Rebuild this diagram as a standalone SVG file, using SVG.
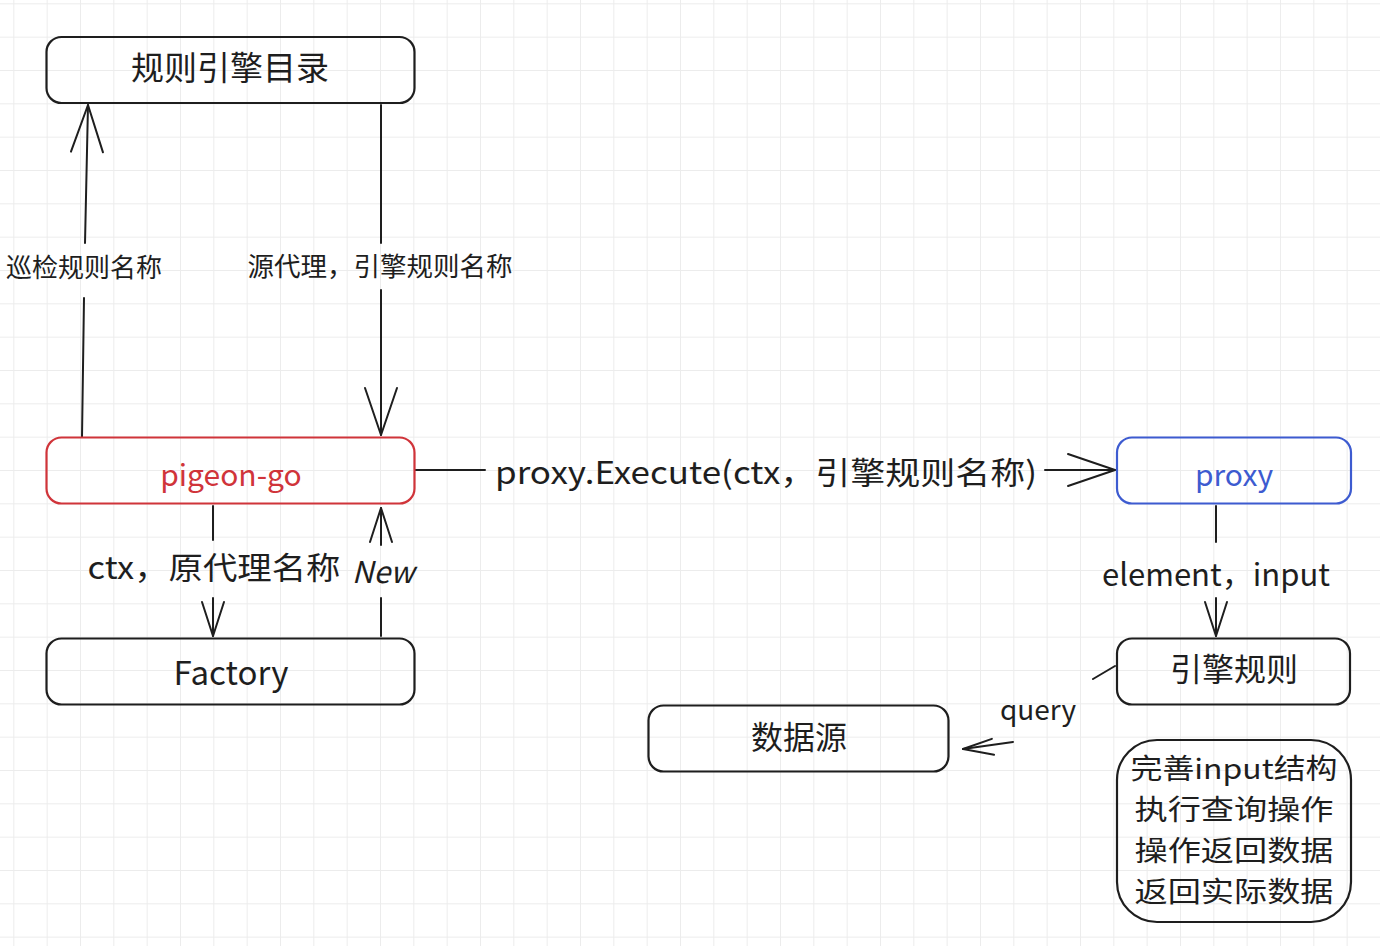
<svg xmlns="http://www.w3.org/2000/svg" width="1380" height="946" viewBox="0 0 1380 946">
<defs>
<pattern id="grid" x="13.33" y="3.33" width="33.333" height="33.333" patternUnits="userSpaceOnUse">
<path d="M0,0.5 H33.333 M0.5,0 V33.333" fill="none" stroke="#ececec" stroke-width="1"/>
</pattern>
<marker id="headL" markerUnits="userSpaceOnUse" viewBox="-50 -20 52 40" markerWidth="52" markerHeight="40" refX="0" refY="0" orient="auto" overflow="visible">
<path d="M-47,-16 L0,0 L-47,16" fill="none" stroke="#1e1e1e" stroke-width="2" stroke-linecap="round" stroke-linejoin="round"/>
</marker>
<marker id="headS" markerUnits="userSpaceOnUse" viewBox="-40 -16 42 32" markerWidth="42" markerHeight="32" refX="0" refY="0" orient="auto" overflow="visible">
<path d="M-34,-11 L0,0 L-34,11" fill="none" stroke="#1e1e1e" stroke-width="2" stroke-linecap="round" stroke-linejoin="round"/>
</marker>
<marker id="headQ" markerUnits="userSpaceOnUse" viewBox="-40 -16 42 32" markerWidth="42" markerHeight="32" refX="0" refY="0" orient="auto" overflow="visible">
<path d="M-30,-10 L0,0 L-30,6" fill="none" stroke="#1e1e1e" stroke-width="2" stroke-linecap="round" stroke-linejoin="round"/>
</marker>
</defs>
<style>
.box{fill:none;stroke:#1e1e1e;stroke-width:2.2}
.red{stroke:#d0343a}
.blue{stroke:#3d5bd0}
.t{font-family:"Noto Sans CJK SC","Noto Sans",sans-serif;fill:#1e1e1e;text-anchor:middle;dominant-baseline:central}
.conn{fill:none;stroke:#1e1e1e;stroke-width:2;stroke-linecap:round}
</style>
<rect width="1380" height="946" fill="#ffffff"/>
<rect width="1380" height="946" fill="url(#grid)"/>

<g id="connectors">
<path class="conn" d="M82,437 L84,298 M85,243 L88,105" marker-end="url(#headL)"/>
<text class="t" x="84" y="265" font-size="26">巡检规则名称</text>
<path class="conn" d="M381,105 L381,243 M381,290 L381,435" marker-end="url(#headL)"/>
<text class="t" x="380" y="264" font-size="26.5">源代理，引擎规则名称</text>
<path class="conn" d="M213,506 L213,540 M213,598 L213,636" marker-end="url(#headS)"/>
<text class="t" x="214" y="565" font-size="31" textLength="253" lengthAdjust="spacingAndGlyphs">ctx，原代理名称</text>
<path class="conn" d="M381,636 L381,598 M381,545 L381,508" marker-end="url(#headS)"/>
<text class="t" x="383" y="570" font-size="30" font-style="italic">New</text>
<path class="conn" d="M415,470 L485,470 M1045,470 L1115,470" marker-end="url(#headL)"/>
<text class="t" x="766" y="470" font-size="31" textLength="542" lengthAdjust="spacingAndGlyphs">proxy.Execute(ctx，引擎规则名称)</text>
<path class="conn" d="M1216,506 L1216,542 M1216,598 L1216,636" marker-end="url(#headS)"/>
<text class="t" x="1216" y="572" font-size="31" textLength="228" lengthAdjust="spacingAndGlyphs">element，input</text>
<path class="conn" d="M1115,666 L1093,679 M1013,742 L963,749" marker-end="url(#headQ)"/>
<text class="t" x="1038" y="708" font-size="28">query</text>
</g>

<g id="node-catalog">
<rect class="box" x="46.5" y="37" width="368" height="66" rx="15"/>
<text class="t" x="230" y="66" font-size="33">规则引擎目录</text>
</g>
<g id="node-pigeon">
<rect class="box red" x="46.5" y="437.5" width="368" height="66" rx="15"/>
<text class="t" x="231" y="473" font-size="30" style="fill:#d0343a">pigeon-go</text>
</g>
<g id="node-factory">
<rect class="box" x="46.5" y="638.5" width="368" height="66" rx="15"/>
<text class="t" x="231" y="671" font-size="33">Factory</text>
</g>
<g id="node-proxy">
<rect class="box blue" x="1117" y="437.5" width="234" height="66" rx="15"/>
<text class="t" x="1234" y="473" font-size="30" style="fill:#3d5bd0">proxy</text>
</g>
<g id="node-rule">
<rect class="box" x="1117" y="638.5" width="233" height="66" rx="15"/>
<text class="t" x="1234" y="667" font-size="32">引擎规则</text>
</g>
<g id="node-datasource">
<rect class="box" x="648.5" y="705.5" width="300" height="66" rx="15"/>
<text class="t" x="799" y="735" font-size="32">数据源</text>
</g>
<g id="node-note">
<rect class="box" x="1117" y="740" width="234" height="182" rx="40"/>
<text class="t" x="1234" y="767" font-size="28" textLength="207" lengthAdjust="spacingAndGlyphs">完善input结构</text>
<text class="t" x="1234" y="808" font-size="28" textLength="199" lengthAdjust="spacingAndGlyphs">执行查询操作</text>
<text class="t" x="1234" y="849" font-size="28" textLength="199" lengthAdjust="spacingAndGlyphs">操作返回数据</text>
<text class="t" x="1234" y="890" font-size="28" textLength="199" lengthAdjust="spacingAndGlyphs">返回实际数据</text>
</g>
</svg>
